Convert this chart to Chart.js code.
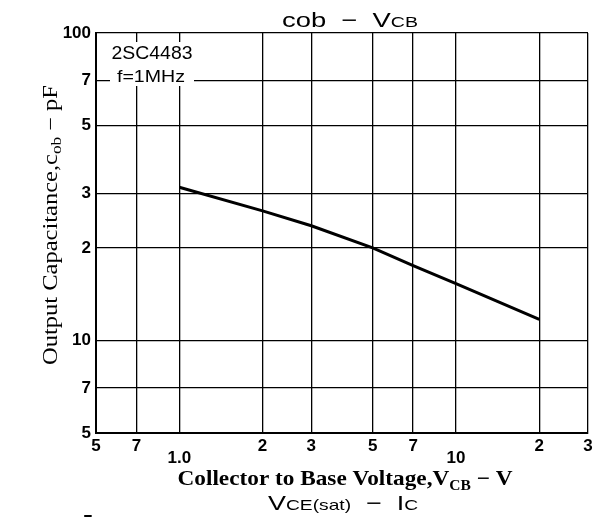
<!DOCTYPE html>
<html>
<head>
<meta charset="utf-8">
<script src="https://cdn.jsdelivr.net/npm/chart.js@4.4.0/dist/chart.umd.min.js"></script>
<style>
  html, body { margin: 0; padding: 0; background: #fff; }
</style>
</head>
<body>
<canvas id="cobChart" width="601" height="517"></canvas>
<script>
// Data (log-log)
const vcb = [1.0, 2, 3, 5, 7, 10, 20];
const cob = [31.5, 26.4, 23.6, 20.0, 17.5, 15.3, 11.7];

// Grid / tick positions and the labels printed beside them
const xTicks = [0.5, 0.7, 1, 2, 3, 5, 7, 10, 20, 30];
const xTickLabels = ['5', '7', '1.0', '2', '3', '5', '7', '10', '2', '3'];
const yTicks = [5, 7, 10, 20, 30, 50, 70, 100];
const yTickLabels = ['5', '7', '10', '2', '3', '5', '7', '100'];

const SANS = '"Liberation Sans", Arial, sans-serif';
const SERIF = '"Liberation Serif", "Times New Roman", serif';

// draw a run of text pieces [text, size, weight, dy], centred on x and
// stretched horizontally so the whole run is `width` px wide
function drawRich(ctx, parts, x, y, family, width) {
    let total = 0;
    parts.forEach(function(p) {
        ctx.font = p[2] + ' ' + p[1] + 'px ' + family;
        p.w = ctx.measureText(p[0]).width;
        total += p.w;
    });
    const sx = width ? width / total : 1;
    ctx.save();
    ctx.translate(x - total * sx / 2, y);
    ctx.scale(sx, 1);
    ctx.textAlign = 'left';
    ctx.textBaseline = 'alphabetic';
    let cx = 0;
    parts.forEach(function(p) {
        ctx.font = p[2] + ' ' + p[1] + 'px ' + family;
        ctx.fillText(p[0], cx, p[3] || 0);
        cx += p.w;
    });
    ctx.restore();
}

const textPlugin = {
    id: 'texts',
    afterDraw: function(chart) {
        const ctx = chart.ctx;
        ctx.save();
        ctx.fillStyle = '#000';

        // title
        drawRich(ctx, [['cob', 21, 'normal'], ['  \u2212  ', 21, 'normal'], ['V', 21, 'normal'], ['CB', 15, 'normal']], 350, 27, SANS, 136);

        // x axis title
        drawRich(ctx, [['Collector to Base Voltage,V', 21, 'bold'], ['CB', 14, 'bold', 5], [' \u2212 V', 21, 'bold']], 345, 485, SERIF, 335);

        // next chart's title peeking in at the bottom
        drawRich(ctx, [['V', 21, 'normal'], ['CE(sat)', 15, 'normal'], ['  \u2212  ', 21, 'normal'], ['I', 21, 'normal'], ['C', 15, 'normal']], 343, 510, SANS, 150);
        drawRich(ctx, [['7', 16, 'bold']], 88, 527, SANS);

        // y axis title (rotated)
        ctx.save();
        ctx.translate(57, 225);
        ctx.rotate(-Math.PI / 2);
        drawRich(ctx, [['Output Capacitance,c', 20, 'normal'], ['ob', 14, 'normal', 4], [' \u2212 pF', 20, 'normal']], 0, 0, SERIF, 280);
        ctx.restore();

        // annotation box
        ctx.fillStyle = '#fff';
        ctx.fillRect(110, 42, 84, 44);
        ctx.fillStyle = '#000';
        drawRich(ctx, [['2SC4483', 18, 'normal']], 152, 59, SANS, 81);
        drawRich(ctx, [['f=1MHz', 17, 'normal']], 151, 82, SANS, 68);
        ctx.restore();
    }
};

document.addEventListener('DOMContentLoaded', function() {
    const ctx = document.getElementById('cobChart').getContext('2d');

    new Chart(ctx, {
        type: 'line',
        data: {
            datasets: [{
                data: vcb.map(function(v, i) { return { x: v, y: cob[i] }; }),
                borderColor: '#000',
                borderWidth: 3,
                pointRadius: 0,
                tension: 0,
                fill: false
            }]
        },
        options: {
            responsive: false,
            animation: false,
            layout: { padding: { left: 0, right: 13, top: 33, bottom: 0 } },
            plugins: {
                legend: { display: false },
                tooltip: { enabled: false }
            },
            scales: {
                x: {
                    type: 'logarithmic',
                    min: 0.5,
                    max: 30,
                    afterBuildTicks: function(scale) {
                        scale.ticks = xTicks.map(function(v) { return { value: v }; });
                    },
                    afterFit: function(scale) { scale.height = 84; },
                    grid: { color: '#000', lineWidth: 1.3, drawTicks: false },
                    border: { display: true, color: '#000', width: 2 },
                    ticks: {
                        autoSkip: false,
                        maxRotation: 0,
                        padding: 7,
                        color: '#000',
                        font: { family: SANS, size: 17, weight: 'bold', lineHeight: 0.7 },
                        callback: function(value) {
                            const i = xTicks.indexOf(value);
                            if (i < 0) return '';
                            const s = xTickLabels[i];
                            return (value === 1 || value === 10) ? ['', s] : s;
                        }
                    }
                },
                y: {
                    type: 'logarithmic',
                    min: 5,
                    max: 100,
                    afterBuildTicks: function(scale) {
                        scale.ticks = yTicks.map(function(v) { return { value: v }; });
                    },
                    afterFit: function(scale) { scale.width = 96; },
                    grid: { color: '#000', lineWidth: 1.3, drawTicks: false },
                    border: { display: true, color: '#000', width: 2 },
                    ticks: {
                        autoSkip: false,
                        padding: 5,
                        color: '#000',
                        font: { family: SANS, size: 17, weight: 'bold' },
                        callback: function(value) {
                            const i = yTicks.indexOf(value);
                            return i < 0 ? '' : yTickLabels[i];
                        }
                    }
                }
            }
        },
        plugins: [textPlugin]
    });
});
</script>
</body>
</html>
